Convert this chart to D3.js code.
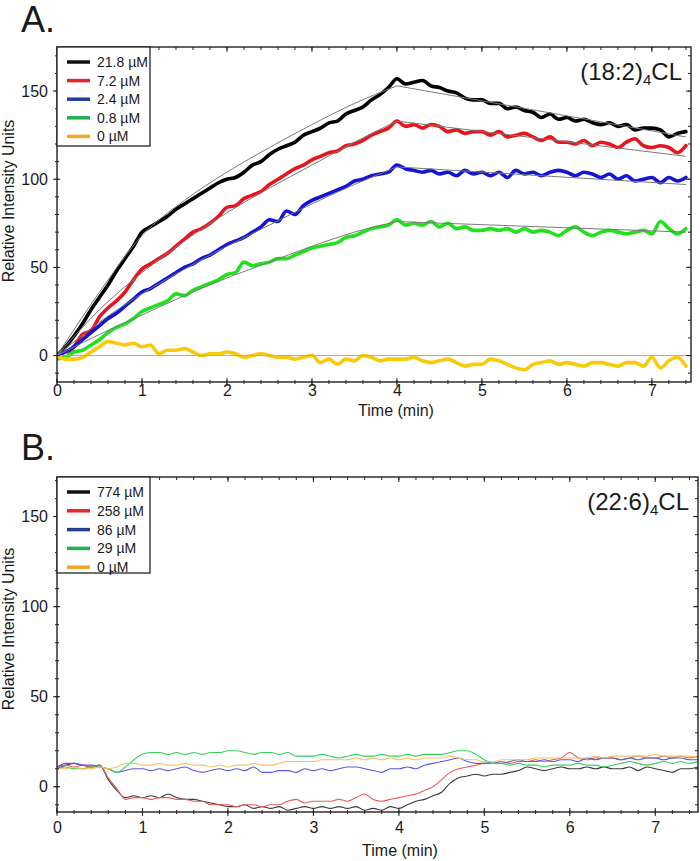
<!DOCTYPE html>
<html><head><meta charset="utf-8">
<script src="https://cdn.jsdelivr.net/npm/d3@7"></script>
<style>body{margin:0;background:#fff}svg{display:block}text{font-family:"Liberation Sans",Arial,sans-serif;fill:#1a1a1a}</style>
</head><body><svg id="c" width="700" height="861"></svg>
<script>
// ---------- data ----------
const timeA = [0,0.1,0.2,0.3,0.4,0.5,0.6,0.7,0.8,0.9,1,1.1,1.2,1.3,1.4,1.5,1.6,1.7,1.8,1.9,2,2.1,2.2,2.3,2.4,2.5,2.6,2.7,2.8,2.9,3,3.1,3.2,3.3,3.4,3.5,3.6,3.7,3.8,3.9,4,4.1,4.2,4.3,4.4,4.5,4.6,4.7,4.8,4.9,5,5.1,5.2,5.3,5.4,5.5,5.6,5.7,5.8,5.9,6,6.1,6.2,6.3,6.4,6.5,6.6,6.7,6.8,6.9,7,7.1,7.2,7.3,7.4];
const timeB = [0,0.1,0.2,0.3,0.4,0.5,0.6,0.7,0.8,0.9,1,1.1,1.2,1.3,1.4,1.5,1.6,1.7,1.8,1.9,2,2.1,2.2,2.3,2.4,2.5,2.6,2.7,2.8,2.9,3,3.1,3.2,3.3,3.4,3.5,3.6,3.7,3.8,3.9,4,4.1,4.2,4.3,4.4,4.5,4.6,4.7,4.8,4.9,5,5.1,5.2,5.3,5.4,5.5,5.6,5.7,5.8,5.9,6,6.1,6.2,6.3,6.4,6.5,6.6,6.7,6.8,6.9,7,7.1,7.2,7.3,7.4,7.5];

const labelsA = ["21.8 µM","7.2 µM","2.4 µM","0.8 µM","0 µM"];
const labelsB = ["774 µM","258 µM","86 µM","29 µM","0 µM"];

const a218 = [0,5,11,18,26,33,40,48,55,62,
  70,73,76,79,83,86,89,92,95,98,
  100,101,104,108,110,114,117,119,121,125,
  127,129,132,133,137,139,141,145,148,152,
  157,154,155,156,153,152,150,149,146,145,
  145,143,143,140,141,139,138,135,137,134,
  135,133,134,132,131,132,130,131,128,129,
  129,128,124,126,127];
const a72 = [0,-1,5,12,14,22,27,31,36,43,
  49,52,55,58,62,66,70,72,75,79,
  84,85,89,91,93,97,100,103,106,108,
  111,113,115,116,119,120,122,125,127,129,
  133,130,131,129,131,130,127,128,126,127,
  127,125,127,124,125,126,124,122,124,121,
  121,120,122,119,121,120,118,121,123,119,
  118,119,118,115,119];
const a24 = [0,2,5,9,13,17,21,24,28,32,
  36,38,41,44,47,50,52,55,57,60,
  63,65,67,70,73,77,76,82,80,85,
  88,90,92,94,96,99,100,102,103,104,
  108,106,105,104,105,103,104,102,105,103,
  104,102,104,101,105,103,104,102,104,105,
  104,102,104,103,101,103,100,102,99,100,
  101,98,101,99,101];
const a08 = [-2,-1,2,3,6,9,13,16,18,21,
  25,27,29,31,35,34,37,39,41,43,
  46,47,53,51,52,53,55,55,57,59,
  61,62,63,64,67,68,70,72,73,74,
  77,74,75,74,76,73,75,72,73,71,
  71,72,71,72,70,72,70,71,70,68,
  71,73,70,68,70,71,70,69,70,71,
  69,76,72,69,72];
const a0 = [0,-2,-2,-1,2,5,8,7,6,7,
  5,6,1,3,3,4,2,0,1,1,
  2,1,-1,0,1,0,-1,-1,-2,-1,
  0,-4,-2,-5,-2,-3,0,-1,-3,-2,
  -2,-2,-1,-3,-4,-3,-2,-4,-6,-5,
  -5,-2,-3,-5,-7,-8,-5,-4,-3,-5,
  -4,-5,-6,-4,-4,-5,-6,-4,-4,-6,
  -1,-7,-3,-1,-6];

// fitted curves (panel A): rise phase 0–4 min, then linear decay to 7.4 min
const fitTimeRise = [0,0.5,1,1.5,2,2.5,3,3.5,4];
const fitTimeDecay = [4,7.4];
const fitRise218 = [0,36,68,88,104,118,131,143,153];
const fitRise72  = [0,26,47,65,81,95,108,121,133];
const fitRise24  = [0,19,35,49,62,74,86,97,107];
const fitRise08  = [0,12,23,34,44,53,62,70,76];
const fitRise0   = [0,0,0,0,0,0,0,0,0];
const fitDecay218 = [153,124];
const fitDecay72  = [133,113];
const fitDecay24  = [107,97];
const fitDecay08  = [76,70];
const fitDecay0   = [0,0];

const b774 = [10,12,13,12,11,12,4,-2,-6,-5,
  -6,-5,-6,-4,-6,-7,-7,-8,-9,-10,
  -11,-11,-10,-12,-11,-12,-11,-13,-12,-11,
  -12,-11,-12,-11,-12,-11,-13,-12,-13,-11,
  -12,-10,-8,-7,-5,-3,2,5,6,7,
  6,7,7,8,9,11,10,9,10,11,
  10,10,11,10,11,10,10,11,9,11,
  10,9,8,10,10,11];
const b258 = [11,12,11,12,11,12,5,-1,-7,-6,
  -6,-7,-6,-6,-7,-7,-8,-8,-10,-10,
  -10,-11,-10,-10,-11,-10,-10,-8,-7,-9,
  -8,-8,-8,-7,-8,-6,-4,-7,-8,-7,
  -6,-5,-4,-2,0,4,8,10,11,12,
  13,13,14,13,14,14,15,14,15,16,
  19,16,15,16,16,16,15,16,17,16,
  16,17,16,17,16,17];
const b86 = [11,13,13,12,12,11,10,8,9,10,
  10,9,10,9,10,11,9,8,9,10,
  9,10,9,11,8,8,9,9,8,10,
  9,10,9,10,11,11,10,9,8,10,
  10,11,10,12,13,14,15,16,14,13,
  13,14,13,14,15,14,14,15,14,15,
  15,14,16,15,16,16,15,16,15,16,
  16,15,16,16,15,15];
const b29 = [10,11,10,10,11,11,10,8,11,15,
  18,19,19,18,19,18,19,18,19,19,
  20,20,19,18,19,19,18,19,17,17,
  17,18,17,16,17,18,17,17,18,17,
  17,18,17,18,18,18,19,20,20,18,
  15,13,13,12,13,12,12,11,12,12,
  12,13,12,12,11,12,13,14,13,12,
  13,14,13,14,13,14];
const b0 = [10,10,11,10,10,11,10,11,13,13,
  12,12,13,12,12,13,12,12,11,12,
  11,12,12,13,12,12,13,14,14,14,
  14,15,15,15,15,16,15,16,15,16,
  15,16,15,16,16,16,17,16,15,15,
  14,14,15,15,15,15,16,16,16,16,
  16,16,16,17,16,17,17,17,17,17,
  18,17,17,17,17,16];

const xTicks = [0,1,2,3,4,5,6,7];
const yTicks = [0,50,100,150];

// ---------- drawing ----------
const svg = d3.select('#c');
const legendColors = ['#111111','#e3262b','#213d96','#21b04b','#f5a623'];

function panel(o){
  const x = d3.scaleLinear().domain(o.xDom).range([o.left,o.right]);
  const y = d3.scaleLinear().domain(o.yDom).range([o.bottom,o.top]);
  const g = svg.append('g');
  svg.append('clipPath').attr('id','clip'+o.id).append('rect')
    .attr('x',o.left).attr('y',o.top).attr('width',o.right-o.left).attr('height',o.bottom-o.top);
  const plot = g.append('g').attr('clip-path',`url(#clip${o.id})`);

  const line = d3.line().x(d=>x(d[0])).y(d=>y(d[1]));
  const smooth = d3.line().x(d=>x(d[0])).y(d=>y(d[1])).curve(d3.curveMonotoneX);
  o.series.forEach((s,i)=>{
    plot.append('path').datum(o.time.map((t,k)=>[t,s[k]]))
      .attr('fill','none').attr('stroke',o.colors[i]).attr('stroke-width',o.traceWidth)
      .attr('stroke-linejoin','round').attr('stroke-linecap','round').attr('d',smooth);
  });
  if(o.fits){
    o.fits.forEach(f=>{
      plot.append('path').datum(o.fitTimeRise.map((t,k)=>[t,f.rise[k]]))
        .attr('fill','none').attr('stroke',f.c||'#7a7a7a').attr('stroke-width',1).attr('d',smooth);
      plot.append('path').datum(o.fitTimeDecay.map((t,k)=>[t,f.decay[k]]))
        .attr('fill','none').attr('stroke',f.c||'#7a7a7a').attr('stroke-width',1).attr('d',line);
    });
  }

  const xMinor = d3.range(0, o.xDom[1]+1e-9, 0.2);
  const yMinor = d3.range(-10, o.yDom[1]+1e-9, 10);
  const ax = g.append('g').attr('stroke','#222');
  function tickLines(vals, fn){ vals.forEach(v=>{ const p = fn(v); ax.append('line').attr('x1',p[0]).attr('y1',p[1]).attr('x2',p[2]).attr('y2',p[3]).attr('stroke-width',1); }); }
  tickLines(xMinor, v=>[x(v),o.bottom-2,x(v),o.bottom+2]);
  tickLines(xTicks, v=>[x(v),o.bottom-4,x(v),o.bottom+4]);
  tickLines(xMinor, v=>[x(v),o.top,x(v),o.top+3]);
  tickLines(xTicks, v=>[x(v),o.top,x(v),o.top+5]);
  tickLines(yMinor, v=>[o.left-2,y(v),o.left+2,y(v)]);
  tickLines(yTicks, v=>[o.left-4,y(v),o.left+3,y(v)]);
  tickLines(yMinor, v=>[o.right-3,y(v),o.right,y(v)]);
  tickLines(yTicks, v=>[o.right-5,y(v),o.right,y(v)]);

  g.append('rect').attr('x',o.left).attr('y',o.top).attr('width',o.right-o.left).attr('height',o.bottom-o.top)
    .attr('fill','none').attr('stroke','#222').attr('stroke-width',1.4);

  const xa = g.append('g').attr('transform',`translate(0,${o.bottom})`)
    .call(d3.axisBottom(x).tickValues(xTicks).tickSize(0).tickPadding(o.xPad).tickFormat(d3.format('d')));
  xa.select('.domain').remove();
  xa.selectAll('text').attr('font-size',16).attr('font-family','"Liberation Sans",Arial,sans-serif').attr('fill','#1a1a1a');
  const ya = g.append('g').attr('transform',`translate(${o.left},0)`)
    .call(d3.axisLeft(y).tickValues(yTicks).tickSize(0).tickPadding(9).tickFormat(d3.format('d')));
  ya.select('.domain').remove();
  ya.selectAll('text').attr('font-size',16).attr('font-family','"Liberation Sans",Arial,sans-serif').attr('fill','#1a1a1a');

  g.append('text').attr('x',o.xTitleX).attr('y',o.xTitleY).attr('text-anchor','middle').attr('font-size',16).text('Time (min)');
  g.append('text').attr('transform',`translate(14,${o.yTitleY}) rotate(-90)`).attr('text-anchor','middle').attr('font-size',16).text('Relative Intensity Units');

  g.append('text').attr('x',21).attr('y',o.letterY).attr('font-size',36).text(o.letter);

  const t = g.append('text').attr('x',o.right-9).attr('y',o.top+33).attr('text-anchor','end').attr('font-size',24);
  t.append('tspan').text(o.compound);
  t.append('tspan').attr('dy',5).attr('font-size',15).text('4');
  t.append('tspan').attr('dy',-5).text('CL');

  const lg = g.append('g');
  lg.append('rect').attr('x',o.left).attr('y',o.top).attr('width',93).attr('height',o.legH)
    .attr('fill','#fff').attr('stroke','#222').attr('stroke-width',1.3);
  o.labels.forEach((lab,i)=>{
    const yy = o.top + 15 + i*o.legStep;
    lg.append('line').attr('x1',o.left+10).attr('x2',o.left+33).attr('y1',yy).attr('y2',yy)
      .attr('stroke',legendColors[i]).attr('stroke-width',3.5);
    lg.append('text').attr('x',o.left+40).attr('y',yy+5).attr('font-size',14).text(lab);
  });
}

panel({id:'A', letter:'A.', letterY:32, compound:'(18:2)',
  left:57, right:691, top:47, bottom:382, xDom:[0,7.46], yDom:[-15,175],
  time:timeA, series:[a218,a72,a24,a08,a0],
  colors:['#000000','#e8141e','#1414d2','#22e01e','#f7cb0a'], traceWidth:3.6,
  fitTimeRise, fitTimeDecay,
  fits:[{rise:fitRise0,decay:fitDecay0,c:'#aaaaaa'},{rise:fitRise218,decay:fitDecay218},{rise:fitRise72,decay:fitDecay72},{rise:fitRise24,decay:fitDecay24},{rise:fitRise08,decay:fitDecay08}],
  xPad:3, xTitleX:396, xTitleY:416, yTitleY:201,
  labels:labelsA, legH:99, legStep:18.6});

panel({id:'B', letter:'B.', letterY:460, compound:'(22:6)',
  left:57, right:698, top:477, bottom:812, xDom:[0,7.5], yDom:[-14,172],
  time:timeB, series:[b774,b258,b86,b29,b0],
  colors:['#3a3a3a','#e85a5e','#5a5ae0','#34d25a','#f4c55e'], traceWidth:1.1,
  xPad:10, xTitleX:400, xTitleY:856, yTitleY:629,
  labels:labelsB, legH:96, legStep:18.8});
</script></body></html>
